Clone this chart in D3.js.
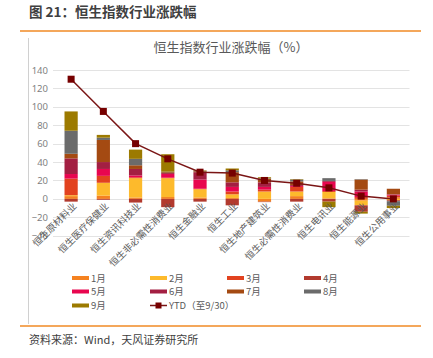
<!DOCTYPE html>
<html><head><meta charset="utf-8">
<script src="https://cdn.jsdelivr.net/npm/d3@7"></script>
<style>
body{margin:0;background:#fff;}
svg text{font-family:"Noto Sans CJK SC","Noto Sans",sans-serif;}
</style></head>
<body><svg id="c" width="433" height="358"></svg>
<script>
const categories = ["恒生原材料业","恒生医疗保健业","恒生资讯科技业","恒生非必需性消费业","恒生金融业","恒生工业","恒生地产建筑业","恒生必需性消费业","恒生电讯业","恒生能源业","恒生公用事业"];
const months = ["1月","2月","3月","4月","5月","6月","7月","8月","9月"];
const m1 = [3, 3.5, 1.5, 2, 1.5, 1, -3, 3, 0.5, -2, 1.5];
const m2 = [1, 14, 21, 20.5, 9, 4, 8, 5, 7, -5, -1.5];
const m3 = [18, 7.5, 1, 0.5, 0.5, 3, 2, 5, 1, 2, 2];
const m4 = [-3, -1, -4, -9, -3, -7, -0.5, -3, -3, -7, -1];
const m5 = [5, 7.5, 2, 4, 10, 5, 3, 1, 10, 6, 1];
const m6 = [17, 7.5, 7, 1, 8, 5, 5, 1, 1, 2, 0.5];
const m7 = [5, 24, 4, 1, 1, 11, 4, 4, 0, 11, 6];
const m8 = [25, 2.5, 7, 0.5, 0.5, 2, 0.5, 2, 3, 0.5, -5];
const m9 = [21, 3, 10, 19, 0.5, 2, 1, 0.5, -6, -2, -2.5];
const ytd = [130, 95, 60, 43.5, 29, 28, 20, 17, 12, 3, 0];
const yTicks = [-40, -20, 0, 20, 40, 60, 80, 100, 120, 140];
const colors = ["#F58220","#FDBA2C","#E2421F","#B23A2E","#E8064F","#A31F42","#A44A12","#6B6B6B","#9C7A00"];
const ytdColor = "#7A1515";

const series = [m1,m2,m3,m4,m5,m6,m7,m8,m9];
const rows = categories.map((c,i)=>{const o={cat:c}; months.forEach((m,j)=>o[m]=series[j][i]); return o;});

const svg = d3.select("#c");
// header
svg.append("text").attr("x",29).attr("y",17).attr("font-size",13.5).attr("font-weight","bold").attr("fill","#404040").text("图 21：恒生指数行业涨跌幅");
svg.append("line").attr("x1",20).attr("x2",421).attr("y1",31).attr("y2",31).attr("stroke","#F08A24").attr("stroke-width",1.5);
svg.append("line").attr("x1",28.5).attr("x2",28.5).attr("y1",38).attr("y2",324).attr("stroke","#D0D0D0").attr("stroke-width",1);
svg.append("line").attr("x1",20).attr("x2",421).attr("y1",326).attr("y2",326).attr("stroke","#F08A24").attr("stroke-width",1.5);
svg.append("text").attr("x",29).attr("y",344).attr("font-size",11).attr("fill","#404040").text("资料来源：Wind，天风证券研究所");

svg.append("text").attr("x",231).attr("y",52).attr("text-anchor","middle").attr("font-size",13).attr("fill","#595959").text("恒生指数行业涨跌幅（%）");

const x = d3.scaleBand().domain(categories).range([55,409.5]).paddingInner(0.59).paddingOuter(0.295);
const y = d3.scaleLinear().domain([-40,140]).range([235.7,70.0]);

// grid
svg.append("g").selectAll("line").data(yTicks).join("line")
  .attr("x1",53).attr("x2",409.5).attr("y1",d=>Math.round(y(d))+0.5).attr("y2",d=>Math.round(y(d))+0.5)
  .attr("stroke","#E3E3E3").attr("stroke-width",1);

const ya = svg.append("g").attr("transform","translate(53,0)")
  .call(d3.axisLeft(y).tickValues(yTicks).tickSize(0).tickPadding(5));
ya.select(".domain").remove();
ya.selectAll("text").attr("font-size",9.5).attr("fill","#7F7F7F").style("font-family","'Noto Sans','DejaVu Sans',sans-serif");

// stacks
const stack = d3.stack().keys(months).offset(d3.stackOffsetDiverging);
const st = stack(rows);
svg.append("g").selectAll("g").data(st).join("g").attr("fill",(d,i)=>colors[i])
  .selectAll("rect").data(d=>d).join("rect")
  .attr("x",d=>x(d.data.cat)).attr("width",x.bandwidth())
  .attr("y",d=>y(Math.max(d[0],d[1]))).attr("height",d=>Math.abs(y(d[0])-y(d[1])));

// category labels
const xa = svg.append("g").attr("transform",`translate(0,${y(0)})`)
  .call(d3.axisBottom(x).tickSize(0).tickPadding(0));
xa.select(".domain").remove();
xa.selectAll("text").attr("font-size",9.5).attr("fill","#595959")
  .attr("text-anchor","end").attr("dy",0)
  .attr("transform","translate(6,8) rotate(-45)");

// ytd line
const cx = d=>x(d)+x.bandwidth()/2;
svg.append("path").datum(ytd).attr("fill","none").attr("stroke",ytdColor).attr("stroke-width",1.5)
  .attr("d",d3.line().x((d,i)=>cx(categories[i])).y(d=>y(d)));
svg.append("g").selectAll("rect").data(ytd).join("rect")
  .attr("x",(d,i)=>cx(categories[i])-3.5).attr("y",d=>y(d)-3.5).attr("width",7).attr("height",7)
  .attr("fill","#760000");

// legend
const lx = [72,150,227,304], ly=[278,291.5,305.5];
const leg = svg.append("g");
months.forEach((m,i)=>{
  const gx = lx[i%4], gy = ly[Math.floor(i/4)];
  leg.append("rect").attr("x",gx).attr("y",gy-2).attr("width",17).attr("height",4).attr("fill",colors[i]);
  leg.append("text").attr("x",gx+19).attr("y",gy+3.5).attr("font-size",9.5).attr("fill","#595959").text(m);
});
{
  const gx = lx[1], gy = ly[2];
  leg.append("line").attr("x1",gx).attr("x2",gx+17).attr("y1",gy).attr("y2",gy).attr("stroke",ytdColor).attr("stroke-width",1.5);
  leg.append("rect").attr("x",gx+5.5).attr("y",gy-3).attr("width",6).attr("height",6).attr("fill","#760000");
  leg.append("text").attr("x",gx+19).attr("y",gy+3.5).attr("font-size",9.5).attr("fill","#595959").text("YTD（至9/30）");
}
</script></body></html>
